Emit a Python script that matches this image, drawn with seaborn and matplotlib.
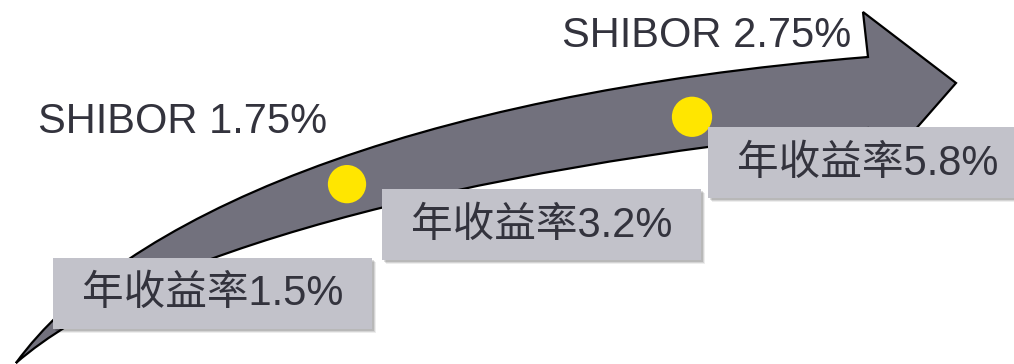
import numpy as np
import pandas as pd
import matplotlib
matplotlib.use("Agg")
import matplotlib.pyplot as plt
from matplotlib.path import Path
from matplotlib.patches import PathPatch, Rectangle
import seaborn as sns

# ---- data ----
yield_values = [1.5, 3.2, 5.8]
yield_labels = ["年收益率1.5%", "年收益率3.2%", "年收益率5.8%"]
shibor_values = [1.75, 2.75]
shibor_labels = ["SHIBOR 1.75%", "SHIBOR 2.75%"]

sns.set_theme(style="white")
plt.rcParams['font.family'] = ['Liberation Sans', 'Noto Sans CJK SC', 'DejaVu Sans']

W, H = 1014, 364
fig = plt.figure(figsize=(W / 100, H / 100), dpi=100)
ax = fig.add_axes([0, 0, 1, 1])

# ---- curved arrow (pixel geometry) ----
tail = (16, 363)
up_c1, up_c2, up_end = (120, 220), (400, 95), (868, 57)
lo_start, lo_c1, lo_c2 = (868, 128), (450, 170), (140, 255)
head_top, head_tip, head_bot = (863, 12), (956, 83), (879, 171)

verts = [tail, up_c1, up_c2, up_end, head_top, head_tip, head_bot,
         lo_start, lo_c1, lo_c2, tail, tail]
codes = [Path.MOVETO, Path.CURVE4, Path.CURVE4, Path.CURVE4,
         Path.LINETO, Path.LINETO, Path.LINETO, Path.LINETO,
         Path.CURVE4, Path.CURVE4, Path.CURVE4, Path.CLOSEPOLY]
arrow = PathPatch(Path(verts, codes), facecolor="#72717D", edgecolor="black",
                  lw=1.6, joinstyle="miter", zorder=1)
ax.add_patch(arrow)


def bez(p0, p1, p2, p3, t):
    t = np.asarray(t)[:, None]
    p0, p1, p2, p3 = map(np.array, (p0, p1, p2, p3))
    return ((1 - t) ** 3) * p0 + 3 * ((1 - t) ** 2) * t * p1 + 3 * (1 - t) * t ** 2 * p2 + t ** 3 * p3


ts = np.linspace(0, 1, 400)
upper = bez(tail, up_c1, up_c2, up_end, ts)
lower = bez(tail, lo_c2, lo_c1, lo_start, ts)


def center_y(x):
    return (np.interp(x, upper[:, 0], upper[:, 1]) + np.interp(x, lower[:, 0], lower[:, 1])) / 2


# yellow dots on the arrow for the two SHIBOR levels
dot_x = np.array([347, 692])
dot_y = center_y(dot_x) + np.array([-2, 4])
dots = pd.DataFrame({"x": dot_x, "y": dot_y, "shibor": shibor_values})
sns.scatterplot(data=dots, x="x", y="y", s=[760, 840], color="#FFE600",
                edgecolor="none", ax=ax, zorder=3, legend=False)
ax.set_xlim(0, W)
ax.set_ylim(H, 0)
ax.axis("off")

# ---- boxes with yields ----
box_x = [53, 382, 708]
box_y = [258, 189, 127]
box_w, box_h = 319, 71
for bx, by, lab in zip(box_x, box_y, yield_labels):
    for k, a in [(5, 0.07), (4, 0.10), (3, 0.13)]:
        ax.add_patch(Rectangle((bx + k - 1, by + k - 1), box_w, box_h,
                               facecolor="#000000", alpha=a, edgecolor="none", zorder=4))
    ax.add_patch(Rectangle((bx, by), box_w, box_h, facecolor="#C2C2CA",
                           edgecolor="none", zorder=5))
    ax.text(bx + box_w / 2, by + box_h / 2 + 1, lab, fontsize=30, color="#33333D",
            ha="center", va="center", zorder=6)

# ---- SHIBOR labels ----
shibor_pos = [(38, 133), (562, 47)]
for (sx, sy), lab in zip(shibor_pos, shibor_labels):
    ax.text(sx, sy, lab, fontsize=30, color="#33333D", ha="left",
            va="baseline", zorder=6)

fig.savefig("out.png", dpi=100)
